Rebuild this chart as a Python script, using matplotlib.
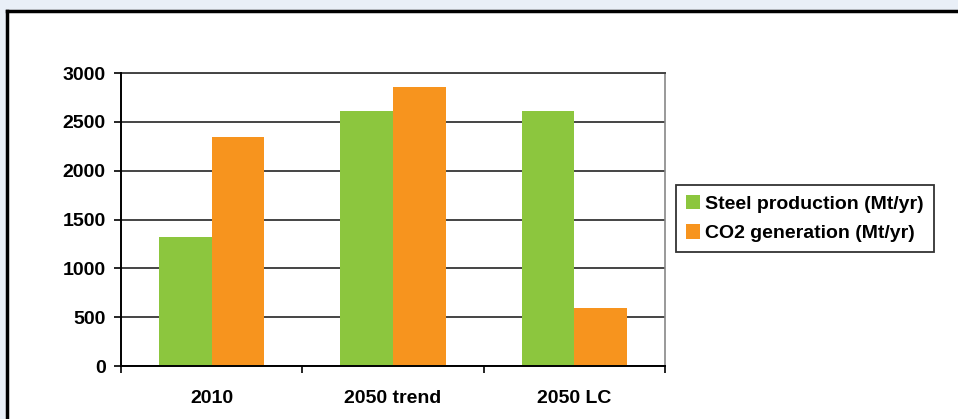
import matplotlib.pyplot as plt
from matplotlib.patches import Rectangle
from matplotlib.lines import Line2D
import numpy as np

plt.rcParams['font.family'] = ['Liberation Sans', 'DejaVu Sans']

categories = ["2010", "2050 trend", "2050 LC"]
steel_production = [1320, 2610, 2610]
co2_generation = [2345, 2855, 595]
series_labels = ["Steel production (Mt/yr)", "CO2 generation (Mt/yr)"]
yticks = [0, 500, 1000, 1500, 2000, 2500, 3000]

GREEN = "#8cc63e"
ORANGE = "#f7941e"

W, H = 958, 419
fig = plt.figure(figsize=(W / 100, H / 100), dpi=100)
fig.patch.set_facecolor("#e9eff7")

# white panel with a heavy frame on the top and left
fig.add_artist(Rectangle((7 / W, 0), 1, 1 - 11 / H, transform=fig.transFigure,
                         facecolor="white", edgecolor="none", zorder=-5))
fig.add_artist(Line2D([7 / W, 1], [1 - 11 / H, 1 - 11 / H], transform=fig.transFigure,
                      color="black", lw=2.5, zorder=-4))
fig.add_artist(Line2D([7 / W, 7 / W], [0, 1 - 11 / H], transform=fig.transFigure,
                      color="black", lw=2.5, zorder=-4))

ax = fig.add_axes([121 / W, 53 / H, 544 / W, 293 / H])
ax.set_facecolor("white")

x = np.arange(len(categories))
bw = 0.29
ax.bar(x - bw / 2, steel_production, bw, color=GREEN, label=series_labels[0], zorder=3)
ax.bar(x + bw / 2, co2_generation, bw, color=ORANGE, label=series_labels[1], zorder=3)

ax.set_xlim(-0.5, len(categories) - 0.5)
ax.set_ylim(0, 3000)
ax.set_yticks(yticks)
ax.set_yticklabels([str(v) for v in yticks], fontsize=14, fontweight="bold")
ax.yaxis.grid(True, color="#444444", lw=1.4, zorder=1)
ax.set_axisbelow(True)

# category labels centred, tick marks between groups
ax.set_xticks(x)
ax.set_xticklabels(categories, fontsize=14, fontweight="bold")
ax.tick_params(axis="x", length=0, pad=17)
ax.set_xticks(np.arange(len(categories) + 1) - 0.5, minor=True)
ax.tick_params(axis="x", which="minor", length=5, width=1.2, color="black", direction="out")
ax.tick_params(axis="y", length=5, width=1.2, direction="out", pad=6)

for side in ["left", "bottom"]:
    ax.spines[side].set_color("black")
    ax.spines[side].set_linewidth(1.4)
    ax.spines[side].set_zorder(4)
ax.spines["top"].set_color("#444444")
ax.spines["top"].set_linewidth(1.4)
ax.spines["right"].set_color("#888888")
ax.spines["right"].set_linewidth(1.2)

leg = ax.legend(loc="upper left", bbox_to_anchor=(676 / W, 1 - 185 / H),
                bbox_transform=fig.transFigure, fontsize=14, frameon=True,
                fancybox=False, handlelength=0.75, handleheight=0.75,
                handletextpad=0.25, borderpad=0.5, labelspacing=0.6,
                borderaxespad=0)
leg.get_frame().set_edgecolor("black")
leg.get_frame().set_linewidth(1.3)
for t in leg.get_texts():
    t.set_fontweight("bold")

fig.savefig("out.png", dpi=100, facecolor=fig.get_facecolor())
